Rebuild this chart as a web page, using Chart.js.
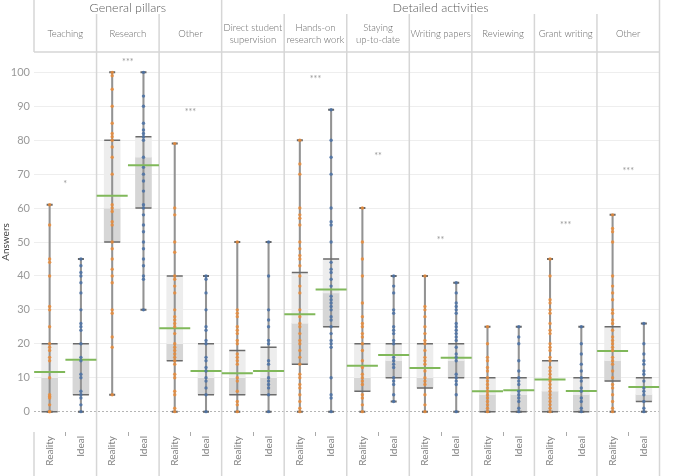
<!DOCTYPE html>
<html>
<head>
<meta charset="utf-8">
<script src="https://cdn.jsdelivr.net/npm/chart.js@4"></script>
<style>
  body { margin: 0; background: #fff; }
  #wrap { width: 677px; height: 476px; }
</style>
</head>
<body>
<div id="wrap"><canvas id="chart" width="677" height="476"></canvas></div>
<script>
const groups = ["General pillars", "Detailed activities"];
const groupSizes = [3, 7];
const panels = ["Teaching", "Research", "Other", ["Direct student", "supervision"], ["Hands-on", "research work"],
    ["Staying", "up-to-date"], "Writing papers", "Reviewing", "Grant writing", "Other"];
const seriesNames = ["Reality", "Ideal"];
const yTicks = [0, 10, 20, 30, 40, 50, 60, 70, 80, 90, 100];

// box statistics, one value per panel
const realityMin = [0, 5, 0, 0, 0, 0, 0, 0, 0, 0];
const realityQ1 = [0, 50, 15, 5, 14, 6, 7, 0, 0, 9];
const realityMedian = [10, 60, 20, 10, 26, 10, 10, 5, 6, 15];
const realityQ3 = [20, 80, 40, 18, 41, 20, 20, 10, 15, 25];
const realityMax = [61, 100, 79, 50, 80, 60, 40, 25, 45, 58];
const realityMean = [11.7, 63.6, 24.6, 11.3, 28.7, 13.5, 12.9, 6, 9.5, 17.9];

const idealMin = [0, 30, 0, 0, 0, 3, 0, 0, 0, 0];
const idealQ1 = [5, 60, 5, 5, 25, 10, 10, 0, 0, 3];
const idealMedian = [15, 75, 10, 10, 35, 15, 15, 5, 5, 5];
const idealQ3 = [20, 81, 20, 19, 45, 20, 20, 10, 10, 10];
const idealMax = [45, 100, 40, 50, 89, 40, 38, 25, 25, 26];
const idealMean = [15.3, 72.6, 12, 12, 36, 16.7, 15.9, 6.3, 6.1, 7.3];

// individual answers
const realityDots = [
    [0, 0, 2, 4, 4.5, 5, 10, 15, 16, 18, 19, 20, 25, 30, 31, 40, 44, 45, 55, 61],
    [5, 19, 22, 29, 30, 38, 40, 42, 45, 48, 50, 55, 56, 59, 60, 61, 70, 75, 78, 80, 81, 82, 85, 90, 95, 99, 100],
    [0, 1, 5, 6, 10, 11, 14, 15, 16, 17, 18, 19, 20, 23, 25, 26, 27, 28, 30, 35, 37, 39, 40, 47, 50, 58, 60, 79],
    [0, 2, 3, 6, 9, 10, 14, 15, 16, 17, 20, 21, 23, 24, 25, 28, 29, 30, 50],
    [0, 1, 3, 5, 7, 8, 10, 11, 14, 16, 18, 20, 21, 23, 25, 26, 28, 30, 35, 37, 40, 43, 45, 46, 48, 50, 55, 57, 58, 60, 70, 73, 80],
    [0, 2, 4, 5, 8, 9, 10, 11, 13, 15, 18, 20, 22, 23, 25, 26, 28, 32, 40, 45, 50, 60],
    [0, 2, 5, 8, 9, 10, 12, 14, 15, 16, 18, 20, 21, 23, 25, 28, 30, 31, 40],
    [0, 1, 2, 3, 4, 5, 6, 7, 8, 9, 10, 12, 13, 15, 16, 20, 25],
    [0, 1, 2, 3, 4, 5, 6, 7, 8, 9, 10, 11, 12, 13, 15, 16, 18, 19, 20, 23, 24, 26, 29, 30, 32, 33, 40, 45],
    [0, 1, 3, 5, 7, 8, 10, 12, 14, 15, 16, 18, 19, 20, 21, 22, 24, 26, 27, 29, 30, 33, 35, 37, 40, 50, 53, 54, 58]
];
const idealDots = [
    [0, 2, 4, 5, 6, 10, 11, 15, 16, 20, 24, 25, 26, 30, 35, 38, 40, 41, 43, 45],
    [30, 39, 40, 43, 45, 48, 50, 53, 55, 58, 60, 61, 65, 68, 70, 72, 75, 80, 81, 82, 83, 85, 90, 93, 100],
    [0, 5, 7, 9, 10, 12, 13, 15, 16, 20, 21, 24, 25, 30, 35, 39, 40],
    [0, 5, 7, 8, 9, 10, 14, 15, 20, 21, 25, 27, 30, 40, 50],
    [0, 4, 5, 10, 19, 20, 21, 23, 25, 27, 28, 30, 31, 32, 33, 34, 37, 39, 41, 42, 44, 50, 55, 56, 60, 70, 75, 80, 89],
    [3, 5, 8, 9, 10, 13, 14, 15, 16, 20, 21, 23, 24, 25, 29, 30, 35, 37, 40],
    [0, 5, 8, 9, 10, 11, 15, 16, 17, 19, 21, 22, 23, 24, 25, 26, 29, 30, 31, 32, 35, 38],
    [0, 1, 3, 4, 5, 6, 8, 9, 10, 12, 15, 20, 22, 25],
    [0, 1, 3, 4, 6, 7, 9, 10, 12, 14, 17, 20, 25],
    [0, 1, 3, 5, 6, 7, 9, 11, 12, 14, 15, 17, 20, 26]
];

// significance marks
const sigLabels = ["*", "***", "***", "", "***", "**", "**", "", "***", "***"];
const sigHeights = [67.6, 103.6, 89, null, 98.5, 76, 51.2, null, 55.6, 71.6];

const FONT = "Lato, 'Open Sans', sans-serif";

function seriesDatasets(offset, min, q1, median, q3, max, mean, dots, dotColor) {
    const pos = i => 2 * i + offset;
    const pts = arr => arr.map((v, i) => ({ x: pos(i), y: v }));
    return [
        { type: "scatter", order: 0, data: dots.flatMap((list, i) => list.map(v => ({ x: pos(i), y: v }))),
          pointRadius: 1.7, pointBackgroundColor: dotColor, pointBorderWidth: 0 },
        { type: "scatter", order: 1, data: pts(mean), pointStyle: "line", pointRadius: 15.5,
          pointBorderColor: "#80b85a", pointBorderWidth: 2 },
        { type: "scatter", order: 2, data: pts(min).concat(pts(max)), pointStyle: "line", pointRadius: 3,
          pointBorderColor: "#666", pointBorderWidth: 2 },
        { type: "scatter", order: 3, data: pts(q1).concat(pts(q3)), pointStyle: "line", pointRadius: 8,
          pointBorderColor: "#6b6b6b", pointBorderWidth: 1.5 },
        { type: "bar", order: 4, data: min.map((v, i) => ({ x: pos(i), y: [v, max[i]] })),
          barThickness: 1.4, backgroundColor: "#939393", grouped: false },
        { type: "bar", order: 5, data: median.map((v, i) => ({ x: pos(i), y: [v, q3[i]] })),
          barThickness: 16, backgroundColor: "#ededed", grouped: false },
        { type: "bar", order: 6, data: q1.map((v, i) => ({ x: pos(i), y: [v, median[i]] })),
          barThickness: 16, backgroundColor: "#d6d6d6", grouped: false }
    ];
}

const datasets = [
    ...seriesDatasets(0.5, realityMin, realityQ1, realityMedian, realityQ3, realityMax, realityMean, realityDots, "rgba(234,140,58,0.85)"),
    ...seriesDatasets(1.5, idealMin, idealQ1, idealMedian, idealQ3, idealMax, idealMean, idealDots, "rgba(74,113,166,0.85)")
];

const framePlugin = {
    id: "frame",
    beforeDatasetsDraw(chart) {
        const ctx = chart.ctx;
        const xs = chart.scales.x;
        const ys = chart.scales.y;
        const area = chart.chartArea;
        const px = v => xs.getPixelForValue(v);
        const H = chart.height;

        ctx.save();
        // panel dividers
        const bounds = [0];
        groupSizes.forEach(s => bounds.push(bounds[bounds.length - 1] + s));
        ctx.strokeStyle = "#d6d6d6";
        ctx.lineWidth = 1.5;
        for (let k = 0; k <= panels.length; k++) {
            const x = px(2 * k);
            const top = bounds.includes(k) ? 0 : 14;
            ctx.beginPath();
            if (k === 0) {
                ctx.moveTo(x, top); ctx.lineTo(x, area.top);
                ctx.moveTo(x, area.bottom); ctx.lineTo(x, H);
            } else {
                ctx.moveTo(x, top); ctx.lineTo(x, H);
            }
            ctx.stroke();
        }
        ctx.beginPath();
        ctx.moveTo(px(0), area.top); ctx.lineTo(px(2 * panels.length), area.top);
        ctx.stroke();

        // small ticks between Reality and Ideal
        ctx.strokeStyle = "#aaa";
        ctx.lineWidth = 1;
        for (let k = 0; k < panels.length; k++) {
            const x = Math.round(px(2 * k + 1)) + 0.5;
            ctx.beginPath(); ctx.moveTo(x, area.bottom); ctx.lineTo(x, area.bottom + 4); ctx.stroke();
        }

        // group titles
        ctx.textAlign = "center";
        ctx.textBaseline = "middle";
        ctx.fillStyle = "#5a5a5a";
        ctx.font = "300 12.5px " + FONT;
        groups.forEach((g, i) => {
            ctx.fillText(g, (px(2 * bounds[i]) + px(2 * bounds[i + 1])) / 2, 8);
        });

        // panel titles
        ctx.fillStyle = "#6a6a6a";
        ctx.font = "300 9.5px " + FONT;
        panels.forEach((p, k) => {
            const cx = px(2 * k + 1);
            if (Array.isArray(p)) {
                ctx.fillText(p[0], cx, 28);
                ctx.fillText(p[1], cx, 39.5);
            } else {
                ctx.fillText(p, cx, 33.5);
            }
        });

        // significance stars
        ctx.fillStyle = "#999";
        ctx.font = "9px " + FONT;
        sigLabels.forEach((s, k) => {
            if (!s) return;
            ctx.fillText(s, px(2 * k + 1), ys.getPixelForValue(sigHeights[k]) + 2);
        });
        ctx.restore();
    }
};

new Chart(document.getElementById("chart").getContext("2d"), {
    type: "bar",
    data: { datasets },
    plugins: [framePlugin],
    options: {
        responsive: false,
        animation: false,
        events: [],
        layout: { padding: { top: 52, right: 2, left: 0, bottom: 0 } },
        plugins: { legend: { display: false }, tooltip: { enabled: false } },
        scales: {
            x: {
                type: "linear",
                min: 0,
                max: 2 * panels.length,
                offset: false,
                grid: { display: false, drawTicks: false, offset: false },
                border: { display: false },
                afterBuildTicks: scale => {
                    scale.ticks = panels.flatMap((p, i) => [{ value: 2 * i + 0.5 }, { value: 2 * i + 1.5 }]);
                },
                afterFit: scale => { scale.height = 44; },
                ticks: {
                    autoSkip: false,
                    minRotation: 90,
                    maxRotation: 90,
                    padding: 4,
                    color: "#808080",
                    font: { family: FONT, size: 10 },
                    callback: (v, i) => seriesNames[i % 2]
                }
            },
            y: {
                type: "linear",
                min: -6,
                max: 106,
                afterBuildTicks: scale => { scale.ticks = yTicks.map(v => ({ value: v })); },
                afterFit: scale => { scale.width = 34; },
                grid: {
                    drawTicks: false,
                    color: ctx => (ctx.tick && ctx.tick.value === 0) ? "#b5b5b5" : "#eeeeee",
                    lineWidth: 1
                },
                border: { display: false, dash: ctx => (ctx.tick && ctx.tick.value === 0) ? [2, 2] : [] },
                ticks: { padding: 4, color: "#999", font: { family: FONT, size: 11 } },
                title: { display: true, text: "Answers", color: "#444", padding: 0, font: { family: FONT, size: 10 } }
            }
        }
    }
});
</script>
</body>
</html>
